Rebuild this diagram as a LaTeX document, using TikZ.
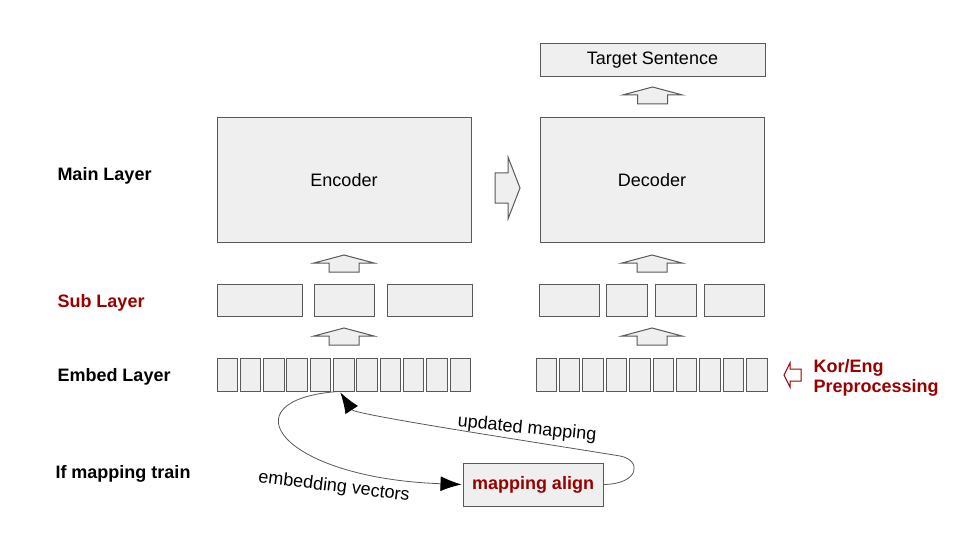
\documentclass[tikz,border=0pt]{standalone}
\usepackage{fontspec}
\setmainfont{Liberation Sans}
\usepackage{tikz}
\usetikzlibrary{arrows.meta}
\definecolor{darkred}{HTML}{990000}
\definecolor{boxgray}{HTML}{EFEFEF}
\definecolor{linegray}{HTML}{595959}
\newcommand{\txt}{\fontsize{18}{20}\selectfont}
\tikzstyle{diagram}=[x=1pt, y=-1pt, line width=1pt, font=\txt]
\tikzstyle{box}=[draw=linegray, fill=boxgray, inner sep=0pt]
\tikzstyle{cell}=[box, minimum width=20.5pt, minimum height=33pt]
\tikzstyle{sub}=[box, minimum height=32pt]
\tikzstyle{layer}=[anchor=base west, inner sep=0pt, font=\txt\bfseries]
\tikzstyle{blk}=[draw=linegray, fill=boxgray, line join=miter]
\tikzstyle{loopedge}=[draw=linegray, line width=0.8pt, -{Latex[length=21pt,width=15pt,color=black]}, shorten >=1pt]
\tikzstyle{edgeLabel}=[inner sep=1pt, font=\txt]
\newcommand{\blkup}[2]{\draw[blk] (#1-15,#2) -- ++(0,-9) -- ++(-15,0) -- ++(30,-8) -- ++(30,8) -- ++(-15,0) -- ++(0,9) -- cycle;}
\newcommand{\encX}{344}
\newcommand{\decX}{652}
\begin{document}
\begin{tikzpicture}[diagram]
\useasboundingbox (0,0) rectangle (960,540);

%The layer names
\node[layer] (lmain) at (57,180) {Main Layer};
\node[layer, text=darkred] (lsub) at (57,307) {Sub Layer};
\node[layer] (lembed) at (57,381) {Embed Layer};
\node[layer] (ltrain) at (55,478) {If mapping train};

\node[box, minimum width=225pt, minimum height=33pt] (target) at (652.5,60.5) {Target Sentence};
\node[box, minimum width=254pt, minimum height=124pt] (enc) at (\encX,180) {Encoder};
\node[box, minimum width=224pt, minimum height=124pt] (dec) at (\decX,180) {Decoder};

\node[sub, minimum width=85pt] (es1) at (259.5,300) {};
\node[sub, minimum width=60pt] (es2) at (344,300) {};
\node[sub, minimum width=85pt] (es3) at (429.5,300) {};
\node[sub, minimum width=60pt] (ds1) at (569,300) {};
\node[sub, minimum width=41pt] (ds2) at (626.5,300) {};
\node[sub, minimum width=41pt] (ds3) at (675.5,300) {};
\node[sub, minimum width=60pt] (ds4) at (734,300) {};

\foreach \i in {0,...,10}
  \node[cell] (ec\i) at ({227.25+23.3*\i},374.5) {};
\foreach \i in {0,...,9}
  \node[cell] (dc\i) at ({546.25+23.4*\i},374.5) {};

%The block arrows
\blkup{\encX}{272}
\blkup{\encX}{345}
\blkup{\decX}{272}
\blkup{\decX}{345}
\blkup{652.5}{104}
\draw[blk] (495,173) -- (508,173) -- (508,157) -- (520,188) -- (508,219) -- (508,203) -- (495,203) -- cycle;
\draw[draw=darkred, fill=white, line join=miter] (801,369) -- (790,369) -- (790,363) -- (784,375) -- (790,387) -- (790,381) -- (801,381) -- cycle;

\node[anchor=west, align=left, inner sep=0pt, text=darkred, font=\fontsize{18}{20}\selectfont\bfseries] (prep) at (813,378) {Kor/Eng\\Preprocessing};

\node[box, minimum width=140pt, minimum height=43pt, text=darkred, font=\txt\bfseries] (align) at (533,484.5) {mapping align};
\coordinate (turn) at (620,456);

\draw[loopedge] ([xshift=-6pt]ec5.south) .. controls (225,400) and (280,478) .. (align.west);
\draw[loopedge] (align.east) .. controls (640,484) and (642,460) .. (turn) .. controls (560,446) and (355,415) .. ([xshift=-4pt]ec5.south);

\node[edgeLabel, rotate=-7] (lemb) at (334,487) {embedding vectors};
\node[edgeLabel, rotate=-5.5] (lupd) at (527,429) {updated mapping};
\end{tikzpicture}
\end{document}
